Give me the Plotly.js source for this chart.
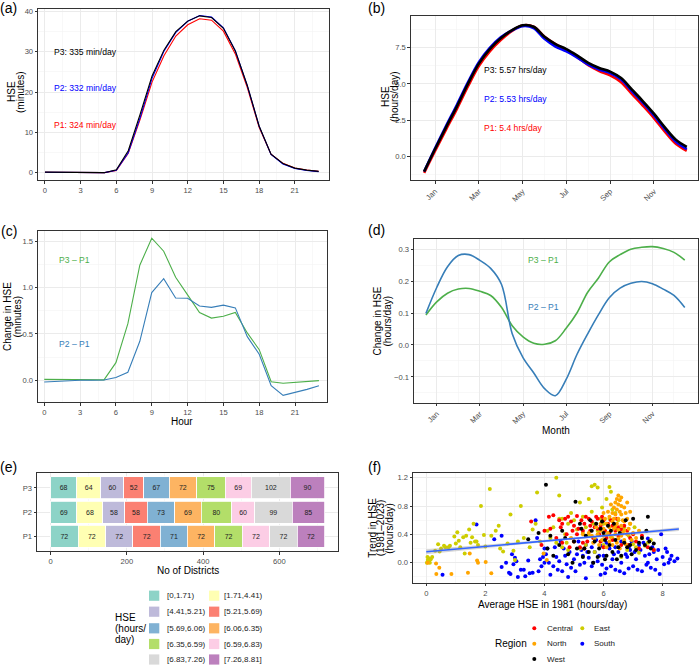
<!DOCTYPE html>
<html>
<head>
<meta charset="utf-8">
<script src="https://cdn.plot.ly/plotly-3.0.1.min.js"></script>
<style>
  html, body { margin: 0; padding: 0; background: #ffffff; }
  #chart { width: 700px; height: 665px; }
</style>
</head>
<body>
<div id="chart"></div>
<script>
// ---------- (a) / (c) hourly sunshine exposure ----------
const hours = [0,1,2,3,4,5,6,7,8,9,10,11,12,13,14,15,16,17,18,19,20,21,22,23];
const hseP1Min = [0.14,0.09,0.04,0.01,0.02,0.02,0.56,4.84,13.26,22.47,29.01,33.89,36.68,38.17,37.83,35.11,29.47,21.19,11.27,4.62,2.33,1.18,0.66,0.33];
const hseP2Min = [0.12,0.08,0.04,0.01,0.02,0.02,0.59,4.93,13.68,23.42,30.11,34.78,37.56,38.97,38.62,35.92,30.25,21.66,11.55,4.56,2.17,1.05,0.56,0.27];
const hseP3Min = [0.15,0.10,0.05,0.02,0.02,0.02,0.75,5.45,14.50,24.00,30.40,35.00,37.60,38.90,38.50,35.80,30.20,21.70,11.60,4.60,2.30,1.15,0.65,0.33];
const diffP2P1Min = [-0.018,-0.010,-0.004,0.000,0.000,0.003,0.030,0.086,0.420,0.945,1.095,0.887,0.883,0.800,0.786,0.810,0.780,0.470,0.280,-0.058,-0.162,-0.134,-0.098,-0.058];
const diffP3P1Min = [0.010,0.010,0.008,0.006,0.005,0.005,0.190,0.610,1.240,1.530,1.390,1.110,0.920,0.730,0.670,0.690,0.730,0.510,0.330,-0.015,-0.032,-0.025,-0.012,-0.004];

// ---------- (b) / (d) seasonal cycle (position in months, 0 = 1 Jan) ----------
const monthPos = [0,0.5,1,1.5,2,2.5,3,3.5,4,4.5,5,5.5,6,6.5,7,7.5,8,8.5,9,9.5,10,10.5,11,11.5,12];
const hseP1Hrs = [-1.15,0.37,1.84,3.28,4.82,6.23,7.25,8.03,8.64,9.03,8.95,8.25,7.74,7.35,6.85,6.29,5.89,5.59,5.12,4.30,3.49,2.64,1.70,0.86,0.38];
const hseP2Hrs = [-1.05,0.55,2.09,3.56,5.10,6.50,7.49,8.22,8.68,8.99,8.86,8.11,7.58,7.24,6.82,6.33,5.99,5.74,5.30,4.49,3.69,2.83,1.88,1.02,0.50];
const hseP3Hrs = [-1.06,0.50,2.00,3.45,5.00,6.40,7.40,8.15,8.70,9.05,8.95,8.25,7.75,7.40,6.95,6.45,6.10,5.85,5.40,4.60,3.80,2.95,2.00,1.15,0.65];
const diffP2P1Hrs = [0.099,0.180,0.245,0.280,0.283,0.265,0.240,0.190,0.035,-0.040,-0.088,-0.137,-0.159,-0.108,-0.030,0.035,0.095,0.148,0.178,0.193,0.199,0.192,0.175,0.155,0.117];
const diffP3P1Hrs = [0.094,0.135,0.162,0.175,0.177,0.168,0.155,0.118,0.060,0.025,0.005,0.002,0.013,0.052,0.100,0.165,0.210,0.260,0.283,0.300,0.306,0.308,0.302,0.290,0.266];
const monthTickPos = [0.5,2.5,4.5,6.5,8.5,10.5];
const monthTickText = ['Jan','Mar','May','Jul','Sep','Nov'];
const monthMinorPos = [1.5,3.5,5.5,7.5,9.5,11.5];

// ---------- (e) districts per HSE class ----------
const periods = ['P1','P2','P3'];
const hseBins = ['[0,1.71)','[1.71,4.41)','[4.41,5.21)','[5.21,5.69)','[5.69,6.06)','[6.06,6.35)','[6.35,6.59)','[6.59,6.83)','[6.83,7.26)','[7.26,8.81]'];
const binColors = ['#8DD3C7','#FFFFB3','#BEBADA','#FB8072','#80B1D3','#FDB462','#B3DE69','#FCCDE5','#D9D9D9','#BC80BD'];
const countsP1 = [72,72,72,72,71,72,72,72,72,72];
const countsP2 = [69,68,58,58,73,69,80,60,99,85];
const countsP3 = [68,64,60,52,67,72,75,69,102,90];

// ---------- (f) district trends vs 1981 level ----------
const regions = ['Central','East','North','South','West'];
const regionColors = ['#FF0000','#CDCD00','#FFA500','#0000FF','#000000'];
const centralPts = [[3.55,0.58],[4.15,0.65],[4.3,0.67],[4.5,0.6],[4.6,0.55],[4.7,0.62],[4.75,0.4],[4.8,0.65],[4.9,0.58],[5.0,0.52],[5.1,0.66],[5.15,0.48],[5.25,0.6],[5.3,0.28],[5.35,0.55],[5.4,0.65],[5.5,0.62],[5.55,0.45],[5.6,0.58],[5.7,0.5],[5.75,0.65],[5.8,0.62],[5.85,0.4],[5.9,0.52],[6.0,0.6],[6.05,0.45],[6.1,0.35],[6.15,0.55],[6.2,0.42],[6.3,0.52],[6.4,0.45],[6.5,0.38],[6.6,0.47],[6.7,0.52],[6.8,0.45],[6.9,0.35],[7.0,0.4],[7.1,0.3],[7.3,0.38],[7.5,0.22],[7.7,0.18],[4.4,0.35],[4.6,0.28],[4.85,0.22],[5.0,0.3],[5.2,0.22],[5.45,0.3],[5.65,0.35],[5.9,0.3],[6.0,0.22],[6.3,0.32],[6.6,0.25],[5.1,0.4],[4.95,0.45],[5.3,0.45],[5.55,0.52],[5.8,0.48],[6.25,0.6],[6.45,0.62],[4.2,0.48],[4.55,0.5],[3.9,0.25],[4.0,0.45],[5.35,0.2],[6.85,0.25],[6.5,0.5],[7.2,0.2],[5.95,0.65]];
const eastPts = [[0.02,0.0],[0.05,0.04],[0.08,0.02],[0.1,0.06],[0.15,0.05],[0.2,0.08],[0.04,0.08],[0.12,0.0],[0.3,0.17],[0.4,0.26],[0.45,0.16],[0.6,0.24],[0.65,0.22],[0.75,0.22],[0.8,0.24],[0.95,0.37],[1.05,0.43],[1.0,0.27],[1.1,0.31],[1.15,0.22],[1.25,0.36],[1.35,0.38],[1.45,0.47],[1.55,0.36],[1.6,0.55],[1.65,0.3],[1.7,0.3],[1.75,0.25],[1.85,0.8],[1.95,0.39],[1.5,0.28],[0.5,0.2],[2.0,0.23],[2.15,1.04],[2.2,0.38],[2.35,0.45],[2.45,0.52],[2.5,0.2],[2.6,0.16],[2.75,0.27],[2.85,0.68],[2.95,0.17],[3.0,0.04],[3.1,0.3],[3.2,0.8],[3.3,0.35],[3.5,0.22],[3.6,0.47],[3.7,0.55],[3.75,0.99],[3.85,0.3],[1.3,0.13],[4.4,1.2],[4.5,0.95],[4.1,0.45],[4.2,0.35],[4.3,0.5],[4.5,0.62],[4.6,0.22],[4.7,0.4],[4.8,0.55],[4.9,0.7],[5.0,0.3],[5.1,0.47],[5.2,0.85],[5.3,0.65],[5.4,0.5],[5.5,0.9],[5.5,0.38],[5.6,0.72],[5.6,1.08],[5.7,1.1],[5.8,1.06],[5.8,0.45],[5.9,0.3],[5.9,0.62],[6.0,0.55],[6.1,0.9],[6.2,1.07],[6.25,1.0],[6.3,0.75],[6.3,0.35],[6.4,0.48],[6.5,0.22],[6.5,0.6],[6.6,0.4],[6.7,0.3],[6.8,0.18],[6.9,0.55],[7.0,0.26],[7.1,0.22],[7.2,0.14],[7.3,0.35],[7.4,0.24],[7.5,0.28],[7.6,0.32],[7.7,0.18],[5.2,0.2],[5.4,0.25],[4.8,0.18],[6.0,0.25],[6.1,0.38],[5.7,0.15],[6.6,0.08],[5.0,0.6],[4.4,0.28],[4.6,0.62],[5.3,0.42],[6.2,0.62],[6.4,0.7],[6.7,0.5],[5.95,0.78],[5.65,0.55],[4.75,0.28],[6.85,0.38],[7.05,0.5]];
const northPts = [[0.05,0.0],[0.33,-0.01],[0.44,-0.07],[0.34,-0.16],[0.85,-0.16],[1.41,-0.14],[1.72,0.03],[1.75,0.0],[2.01,0.01],[2.2,-0.15],[1.47,0.13],[3.97,0.13],[4.08,0.04],[6.5,0.95],[6.45,0.9],[6.55,0.88],[6.6,0.92],[6.4,0.85],[6.5,0.82],[6.6,0.8],[6.35,0.78],[6.45,0.75],[6.7,0.78],[6.55,0.72],[6.3,0.7],[6.4,0.68],[6.6,0.68],[6.75,0.7],[6.2,0.65],[6.5,0.62],[6.65,0.6],[6.8,0.62],[6.3,0.58],[6.45,0.55],[6.1,0.55],[6.6,0.52],[6.9,0.55],[6.2,0.5],[6.35,0.48],[6.5,0.46],[6.7,0.45],[6.0,0.48],[5.9,0.45],[6.15,0.42],[6.4,0.4],[6.6,0.38],[6.8,0.4],[5.8,0.4],[6.0,0.38],[6.25,0.36],[6.5,0.34],[6.7,0.32],[5.7,0.35],[5.95,0.32],[6.2,0.3],[6.45,0.28],[6.75,0.26],[5.5,0.42],[5.6,0.38],[5.3,0.4],[5.9,0.55],[6.05,0.62],[6.85,0.48],[7.0,0.42],[6.95,0.32],[6.3,0.25],[6.1,0.22],[5.85,0.25],[6.55,0.2],[6.7,0.58],[6.25,0.82],[6.35,0.62],[6.15,0.72],[7.1,0.35],[7.2,0.45],[6.65,0.42],[6.4,0.52],[5.75,0.5],[6.0,0.7],[5.65,0.28],[6.8,0.85],[6.9,0.72],[4.9,0.35]];
const southPts = [[0.55,-0.17],[1.7,0.54],[2.3,0.33],[2.55,0.38],[2.55,-0.06],[2.8,-0.14],[2.85,-0.16],[2.9,0.12],[3.0,0.07],[3.1,-0.2],[3.3,-0.1],[3.35,-0.19],[3.5,-0.15],[3.6,-0.14],[3.7,0.6],[3.75,0.35],[3.8,-0.12],[3.9,-0.05],[3.95,0.08],[4.0,0.0],[4.05,0.12],[4.1,0.2],[4.2,-0.17],[4.3,-0.05],[4.4,0.08],[4.5,0.02],[4.6,-0.12],[4.7,0.1],[4.8,-0.2],[4.9,-0.07],[5.0,0.05],[5.1,0.12],[5.2,-0.03],[5.3,0.1],[5.4,-0.22],[5.5,0.07],[5.6,-0.05],[5.7,0.15],[5.8,0.02],[5.9,-0.17],[6.0,0.1],[6.1,-0.08],[6.2,0.2],[6.3,0.05],[6.4,-0.1],[6.5,0.15],[6.6,0.0],[6.7,-0.15],[6.8,0.08],[6.9,0.18],[7.0,-0.05],[7.1,0.05],[7.2,0.25],[7.3,-0.12],[7.4,0.1],[7.5,0.0],[7.6,-0.07],[7.7,0.15],[7.8,0.05],[7.9,-0.16],[8.0,0.08],[8.1,0.2],[8.2,0.0],[8.3,0.1],[8.4,0.02],[8.5,0.06],[7.95,0.4],[7.5,0.34],[7.35,0.28],[6.95,0.3],[6.6,0.3],[6.1,0.28],[5.75,0.32],[5.4,0.25],[5.15,0.3],[4.55,0.3],[4.0,0.2],[4.65,0.2],[5.25,0.18],[5.6,0.22],[5.95,0.24],[6.4,0.22],[6.85,0.22],[7.25,0.18],[7.65,0.22],[8.15,0.15],[8.05,-0.02],[7.75,-0.1],[7.45,-0.03],[7.15,-0.1],[6.85,-0.08],[6.55,-0.12],[6.25,-0.05],[5.95,-0.03],[5.65,0.0],[5.35,0.0],[5.05,-0.12],[4.75,-0.02],[4.45,-0.1],[4.15,0.0],[3.85,0.05],[6.05,-0.15],[6.35,0.12],[6.75,0.12],[7.05,0.15],[7.55,0.12],[7.85,0.18],[8.25,0.05],[5.45,0.15],[5.85,0.1],[4.85,0.15],[4.35,0.22],[3.05,0.02],[2.7,0.0],[2.95,-0.02],[3.2,-0.1],[3.45,0.03]];
const westPts = [[3.45,0.33],[3.8,0.42],[4.05,1.1],[4.1,0.2],[4.3,0.1],[4.5,0.25],[4.6,0.45],[4.8,0.12],[4.95,0.0],[5.0,0.3],[5.05,0.86],[5.1,0.2],[5.2,0.55],[5.3,0.08],[5.4,0.38],[5.5,0.15],[5.55,0.6],[5.6,0.45],[5.7,0.3],[5.75,0.55],[5.8,0.08],[5.85,0.2],[5.9,0.48],[6.0,0.42],[6.05,0.32],[6.1,0.1],[6.15,0.52],[6.2,0.25],[6.25,0.45],[6.3,0.15],[6.4,0.32],[6.5,0.22],[6.55,0.42],[6.6,0.1],[6.7,0.28],[6.75,0.6],[6.8,0.22],[6.9,0.25],[6.95,0.12],[7.0,0.62],[7.1,0.18],[7.2,0.28],[7.3,0.35],[7.4,0.25],[7.45,0.45],[7.5,0.65],[7.55,0.3],[7.6,0.2],[7.7,0.27],[5.25,0.48],[5.95,0.58],[6.35,0.55],[4.7,0.35],[5.65,0.0],[6.45,0.05],[5.35,0.2],[4.2,0.38],[6.05,0.05]];
// linear fit and its 95% band
const fitX  = [0,1,2,3,4,5,6,7,8,8.55];
const fitY  = [0.155,0.192,0.230,0.267,0.305,0.342,0.379,0.417,0.454,0.475];
const fitLo = [0.121,0.163,0.206,0.248,0.290,0.329,0.365,0.399,0.430,0.448];
const fitHi = [0.189,0.221,0.254,0.286,0.320,0.355,0.393,0.435,0.478,0.502];

// ---------- page geometry helpers (pixel -> paper fraction) ----------
const W = 700, H = 665;
const fx = v => v / W;
const fy = v => 1 - v / H;
const domX = (l, r) => [l / W, r / W];
const domY = (t, b) => [1 - b / H, 1 - t / H];

const FONT = 'Liberation Sans, Arial, sans-serif';
const GRID = '#EBEBEB', MINOR = '#F4F4F4', FRAME = '#333333', TICKTXT = '#4D4D4D';

function ax(domain, range, extra) {
  return Object.assign({
    domain: domain, range: range, autorange: false,
    showline: true, mirror: true, linecolor: FRAME, linewidth: 1,
    ticks: 'outside', ticklen: 2.7, tickwidth: 1, tickcolor: FRAME,
    showgrid: true, gridcolor: GRID, gridwidth: 1, zeroline: false,
    tickfont: { family: FONT, size: 7.6, color: TICKTXT },
    fixedrange: true
  }, extra || {});
}
const minorLin = d => ({ dtick: d, showgrid: true, gridcolor: MINOR, gridwidth: 0.6, ticks: '' });
const minorArr = v => ({ tickmode: 'array', tickvals: v, showgrid: true, gridcolor: MINOR, gridwidth: 0.6, ticks: '' });

const traces = [];
const line = (x, y, color, width, xa, ya, shape) => ({
  type: 'scatter', mode: 'lines', x: x, y: y, xaxis: xa, yaxis: ya,
  line: { color: color, width: width, shape: shape || 'linear', smoothing: 1 }, hoverinfo: 'skip'
});

// (a)
traces.push(line(hours, hseP1Min, '#FF0000', 1.1, 'x', 'y'));
traces.push(line(hours, hseP2Min, '#0000FF', 1.1, 'x', 'y'));
traces.push(line(hours, hseP3Min, '#000000', 1.1, 'x', 'y'));
// (b)
traces.push(line(monthPos, hseP1Hrs, '#FF0000', 2.6, 'x2', 'y2', 'spline'));
traces.push(line(monthPos, hseP2Hrs, '#0000FF', 2.6, 'x2', 'y2', 'spline'));
traces.push(line(monthPos, hseP3Hrs, '#000000', 2.6, 'x2', 'y2', 'spline'));
// (c)
traces.push(line(hours, diffP3P1Min, '#4DAF4A', 1.1, 'x3', 'y3'));
traces.push(line(hours, diffP2P1Min, '#377EB8', 1.1, 'x3', 'y3'));
// (d)
traces.push(line(monthPos, diffP3P1Hrs, '#4DAF4A', 1.6, 'x4', 'y4', 'spline'));
traces.push(line(monthPos, diffP2P1Hrs, '#377EB8', 1.6, 'x4', 'y4', 'spline'));
// (e) stacked counts
hseBins.forEach((bin, i) => {
  const vals = [countsP1[i], countsP2[i], countsP3[i]];
  traces.push({
    type: 'bar', orientation: 'h', y: periods, x: vals, name: bin,
    xaxis: 'x5', yaxis: 'y5', width: 0.9,
    marker: { color: binColors[i], line: { color: '#FFFFFF', width: 0.8 } },
    text: vals.map(String), textposition: 'inside', insidetextanchor: 'middle',
    textangle: 0, textfont: { family: FONT, size: 7, color: '#222222' },
    hoverinfo: 'skip'
  });
});
// (f) points by region
const regionPts = [centralPts, eastPts, northPts, southPts, westPts];
[3, 1, 0, 2, 4].forEach(k => {
  traces.push({
    type: 'scatter', mode: 'markers', name: regions[k],
    x: regionPts[k].map(p => p[0]), y: regionPts[k].map(p => p[1]),
    xaxis: 'x6', yaxis: 'y6',
    marker: { color: regionColors[k], size: 4, line: { width: 0 } }, hoverinfo: 'skip'
  });
});
traces.push({
  type: 'scatter', mode: 'lines', xaxis: 'x6', yaxis: 'y6',
  x: fitX.concat(fitX.slice().reverse()), y: fitHi.concat(fitLo.slice().reverse()),
  fill: 'toself', fillcolor: 'rgba(153,153,153,0.4)', line: { width: 0 }, hoverinfo: 'skip'
});
traces.push(line(fitX, fitY, '#3366FF', 1.6, 'x6', 'y6'));

// ---------- text ----------
const ann = [];
const txt = (x, y, text, opt) => ann.push(Object.assign({
  xref: 'paper', yref: 'paper', x: fx(x), y: fy(y), text: text, showarrow: false,
  xanchor: 'center', yanchor: 'middle', font: { family: FONT, size: 10, color: '#000' }
}, opt || {}));

// panel tags
[['(a)', 8.5, 8], ['(b)', 376, 8], ['(c)', 8.7, 231], ['(d)', 376, 230], ['(e)', 8.7, 467], ['(f)', 374, 467]]
  .forEach(t => txt(t[1], t[2], t[0], { font: { family: FONT, size: 14, color: '#000' } }));

// y-axis titles (one annotation per line)
const yTitle = (x, y, s) => txt(x, y, s, { textangle: -90 });
yTitle(12, 92, 'HSE'); yTitle(21, 92, '(minutes)');
yTitle(385, 97, 'HSE'); yTitle(394, 97, '(hours/day)');
yTitle(7, 317, 'Change in HSE'); yTitle(16.5, 317, '(minutes)');
yTitle(376.5, 321, 'Change in HSE'); yTitle(386.5, 321, '(hours/day)');
yTitle(371.7, 528, 'Trend in HSE'); yTitle(380.3, 528, '(1981–2023)'); yTitle(388.8, 528, '(hours/day)');

// x-axis titles
txt(181.7, 421.7, 'Hour');
txt(555.7, 430, 'Month');
txt(187.7, 570, 'No of Districts');
txt(552, 604.5, 'Average HSE in 1981 (hours/day)');

// in-panel labels
const lab = (x, y, s, c) => txt(x, y, s, { xanchor: 'left', font: { family: FONT, size: 8.6, color: c } });
lab(51.7, 51.7, 'P3: 335 min/day', '#000000');
lab(51.7, 88.3, 'P2: 332 min/day', '#0000FF');
lab(51.7, 125, 'P1: 324 min/day', '#FF0000');
lab(481.7, 70, 'P3: 5.57 hrs/day', '#000000');
lab(481.7, 99, 'P2: 5.53 hrs/day', '#0000FF');
lab(481.7, 128.3, 'P1: 5.4 hrs/day', '#FF0000');
lab(56.7, 260, 'P3 – P1', '#4DAF4A');
lab(56.7, 344.3, 'P2 – P1', '#377EB8');
lab(526, 260, 'P3 – P1', '#4DAF4A');
lab(526, 307.3, 'P2 – P1', '#377EB8');

// ---------- legends ----------
const shapes = [];
// (e) HSE classes, two columns
['HSE', '(hours/', 'day)'].forEach((s, i) => txt(112.7, 617.3 + i * 11, s, { xanchor: 'left' }));
const rowsE = [595.7, 611.7, 628.3, 644, 659.5];
const keyX = [149, 209], labX = [165, 222];
hseBins.forEach((bin, i) => {
  const r = Math.floor(i / 2), c = i % 2, yc = rowsE[r];
  shapes.push({ type: 'rect', xref: 'paper', yref: 'paper',
    x0: fx(keyX[c]), x1: fx(keyX[c] + 10.3), y0: fy(yc + 5.1), y1: fy(yc - 5.1),
    fillcolor: binColors[i], line: { width: 0 } });
  txt(labX[c], yc, bin, { xanchor: 'left', font: { family: FONT, size: 8, color: '#1A1A1A' } });
});
// (f) regions
txt(492.7, 643.5, 'Region', { xanchor: 'left' });
const rowsF = [628.3, 643.7, 659];
const dotX = [534.3, 582.3], regLabX = [545, 591.7];
regions.forEach((r, i) => {
  const row = Math.floor(i / 2), c = i % 2, yc = rowsF[row];
  shapes.push({ type: 'circle', xref: 'paper', yref: 'paper',
    x0: fx(dotX[c] - 2), x1: fx(dotX[c] + 2), y0: fy(yc + 2), y1: fy(yc - 2),
    fillcolor: regionColors[i], line: { width: 0 } });
  txt(regLabX[c], yc, r, { xanchor: 'left', font: { family: FONT, size: 8, color: '#1A1A1A' } });
});

const layout = {
  width: W, height: H, margin: { l: 0, r: 0, t: 0, b: 0 },
  paper_bgcolor: '#FFFFFF', plot_bgcolor: '#FFFFFF',
  font: { family: FONT }, showlegend: false, barmode: 'stack',
  xaxis:  ax(domX(38.3, 329.3), [-0.56, 23.9], { anchor: 'y', dtick: 3, tick0: 0, minor: minorLin(1.5) }),
  yaxis:  ax(domY(9, 180), [-1.8, 40.6], { anchor: 'x', dtick: 10, tick0: 0, minor: minorLin(5) }),
  xaxis2: ax(domX(411, 697.7), [-0.6, 12.5], { anchor: 'y2', tickmode: 'array', tickvals: monthTickPos, ticktext: monthTickText, tickangle: -45, minor: minorArr(monthMinorPos) }),
  yaxis2: ax(domY(15.7, 180.3), [-1.66, 9.71], { anchor: 'x2', dtick: 2.5, tick0: 0, tickformat: '.1f', minor: minorLin(1.25) }),
  xaxis3: ax(domX(38.3, 326.7), [-0.5, 23.65], { anchor: 'y3', dtick: 3, tick0: 0, minor: minorLin(1.5) }),
  yaxis3: ax(domY(231, 402.3), [-0.237, 1.608], { anchor: 'x3', dtick: 0.5, tick0: 0, tickformat: '.1f', minor: minorLin(0.25) }),
  xaxis4: ax(domX(414.3, 697.7), [-0.54, 12.6], { anchor: 'y4', tickmode: 'array', tickvals: monthTickPos, ticktext: monthTickText, tickangle: -45, minor: minorArr(monthMinorPos) }),
  yaxis4: ax(domY(239.3, 402.7), [-0.181, 0.331], { anchor: 'x4', dtick: 0.1, tick0: 0, tickformat: '.1f', minor: minorLin(0.05) }),
  xaxis5: ax(domX(37.3, 338.3), [-35.2, 755], { anchor: 'y5', dtick: 200, tick0: 0, minor: minorLin(100) }),
  yaxis5: ax(domY(473.3, 551), [-0.6, 2.6], { anchor: 'x5', type: 'category', categoryorder: 'array', categoryarray: periods }),
  xaxis6: ax(domX(413.3, 691), [-0.44, 8.96], { anchor: 'y6', dtick: 2, tick0: 0, minor: minorLin(1) }),
  yaxis6: ax(domY(473, 582.7), [-0.282, 1.266], { anchor: 'x6', dtick: 0.4, tick0: 0, tickformat: '.1f', minor: minorLin(0.2) }),
  annotations: ann,
  shapes: shapes
};

Plotly.newPlot('chart', traces, layout, { displayModeBar: false, staticPlot: true });
</script>
</body>
</html>
